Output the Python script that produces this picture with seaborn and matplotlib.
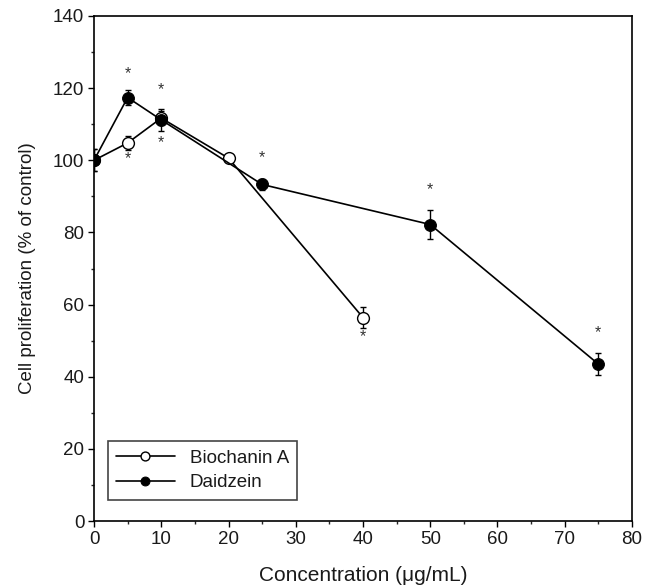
import matplotlib
matplotlib.use("Agg")
import matplotlib.pyplot as plt
import seaborn as sns
import pandas as pd
from matplotlib.ticker import MultipleLocator

# Data
bio_x = [0, 5, 10, 20, 40]
bio_y = [100, 104.8, 111.7, 100.6, 56.4]
bio_err = [3, 2, 2, 0.8, 3]
bio_star = [None, 100.5, 105, None, 51]

dai_x = [0, 5, 10, 25, 50, 75]
dai_y = [100, 117.4, 111.2, 93.3, 82.2, 43.5]
dai_err = [3, 2, 3, 1.5, 4, 3]
dai_star = [None, 124, 119.5, 100.8, 91.8, 52.3]

x_ticks = [0, 10, 20, 30, 40, 50, 60, 70, 80]
y_ticks = [0, 20, 40, 60, 80, 100, 120, 140]

sns.set_theme(style="ticks")
plt.rcParams['font.family'] = ['Liberation Sans', 'DejaVu Sans']
TXT = '#1a1a1a'

fig = plt.figure(figsize=(6.47, 5.88), dpi=100)
ax = fig.add_axes([0.1453, 0.1139, 0.8315, 0.8589])

bio = pd.DataFrame({"x": bio_x, "y": bio_y})
dai = pd.DataFrame({"x": dai_x, "y": dai_y})

ax.errorbar(bio_x, bio_y, yerr=bio_err, fmt='none', ecolor='black',
            elinewidth=1, capsize=2.5, capthick=1, zorder=2)
ax.errorbar(dai_x, dai_y, yerr=dai_err, fmt='none', ecolor='black',
            elinewidth=1, capsize=2.5, capthick=1, zorder=2)

sns.lineplot(data=bio, x="x", y="y", ax=ax, color='black', marker='o',
             markersize=8.5, markerfacecolor='white', markeredgecolor='black',
             markeredgewidth=1, linewidth=1.2, label='Biochanin A', zorder=3)
sns.lineplot(data=dai, x="x", y="y", ax=ax, color='black', marker='o',
             markersize=8.5, markerfacecolor='black', markeredgecolor='black',
             linewidth=1.2, label='Daidzein', zorder=4)

for xs, ss in ((bio_x, bio_star), (dai_x, dai_star)):
    for xv, sv in zip(xs, ss):
        if sv is not None:
            ax.text(xv, sv, '*', ha='center', va='center', fontsize=11.5, color='#333333')

ax.set_xlim(0, 80)
ax.set_ylim(0, 140)
ax.set_xticks(x_ticks)
ax.set_yticks(y_ticks)
ax.xaxis.set_minor_locator(MultipleLocator(5))
ax.yaxis.set_minor_locator(MultipleLocator(10))
ax.tick_params(axis='both', which='major', direction='out', length=4, width=1,
               labelsize=13.5, colors='black', labelcolor=TXT, pad=3)
ax.tick_params(axis='both', which='minor', direction='out', length=2.5, width=1)
for s in ax.spines.values():
    s.set_color('black')
    s.set_linewidth(1.2)

ax.set_xlabel('Concentration (μg/mL)', fontsize=15, labelpad=13, color=TXT)
ax.set_ylabel('Cell proliferation (% of control)', fontsize=13.5, labelpad=12, color=TXT)

leg = ax.legend(loc='lower left', bbox_to_anchor=(0.026, 0.042), borderaxespad=0,
                fontsize=13.5, frameon=True, fancybox=False, edgecolor='#444444',
                framealpha=1, handlelength=3.1, handletextpad=0.8,
                borderpad=0.45, labelspacing=0.4, markerscale=0.75)
leg.get_frame().set_linewidth(1.2)
for t in leg.get_texts():
    t.set_color(TXT)

fig.savefig('out.png', dpi=100)
